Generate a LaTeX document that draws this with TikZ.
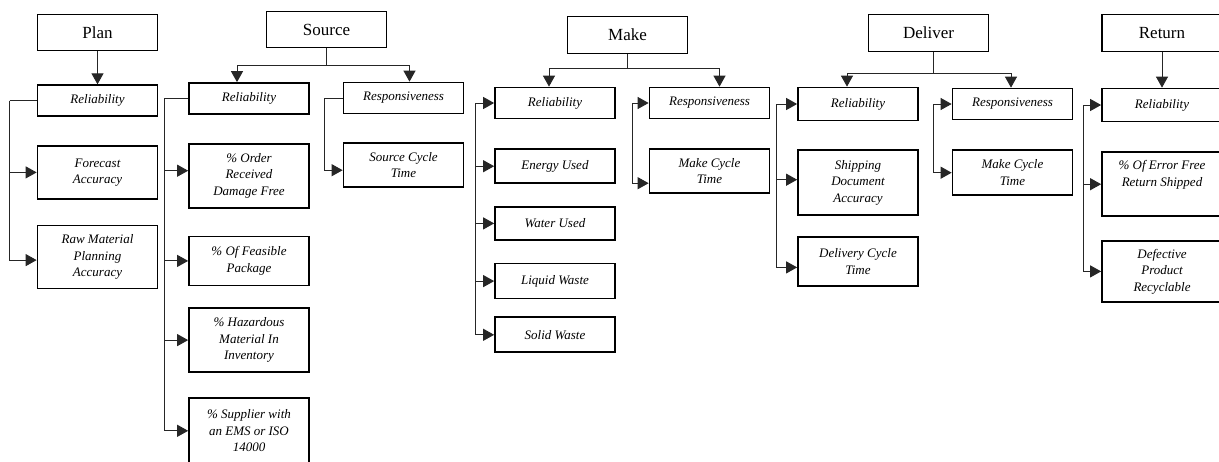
\documentclass[tikz,border=0pt]{standalone}
\usepackage{fontspec}
\setmainfont{Liberation Serif}
\usepackage{tikz}
\usetikzlibrary{arrows.meta, positioning}

\begin{document}
\begin{tikzpicture}[
    x=1pt, y=-1pt,
    node distance=28pt,
    head/.style={draw, line width=1.7pt, minimum width=120pt, minimum height=36pt,
                 font=\fontsize{17}{20}\selectfont},
    kpi/.style={draw, line width=1.7pt, minimum width=120pt, minimum height=31pt,
                align=center, font=\fontsize{13}{16.5}\selectfont\itshape},
    conn/.style={line width=1pt, draw=black!85},
    arr/.style={conn, -{Triangle[length=11pt, width=12pt]}},
]
\useasboundingbox (0,0) rectangle (1219,461);

% Plan
\node[head] (plan) at (97.5,32.5) {Plan};
\node[kpi, below=33pt of plan] (prel) {Reliability};
\node[kpi, below=28pt of prel, minimum height=53pt] (pfor) {Forecast\\Accuracy};
\node[kpi, below=25pt of pfor, minimum height=63pt] (praw) {Raw Material\\Planning\\Accuracy};
\coordinate[left=27pt of prel] (pbus);

\draw[arr] (plan) -- (prel);
\draw[conn] (prel) -- (pbus);
\draw[arr] (pbus) |- (pfor);
\draw[arr] (pbus) |- ([yshift=-3pt]praw.west);

% Source
\node[head] (src) at (326.5,29.5) {Source};
\node[kpi] (srel) at (249,98.5) {Reliability};
\node[kpi] (sresp) at (403.5,98) {Responsiveness};
\node[kpi, below=28pt of srel, minimum height=64pt] (sord) {\% Order\\Received\\Damage Free};
\node[kpi, below=27pt of sord, minimum height=49pt] (sfea) {\% Of Feasible\\Package};
\node[kpi, below=21pt of sfea, minimum height=64pt] (shaz) {\% Hazardous\\Material In\\Inventory};
\node[kpi, below=24pt of shaz, minimum height=66pt] (ssup) {\% Supplier with\\an EMS or ISO\\14000};
\node[kpi, below=28pt of sresp, minimum height=44pt] (scyc) {Source Cycle\\Time};
\coordinate[below=17pt of src] (sj);
\coordinate[left=24pt of srel] (sbus);
\coordinate[left=18pt of sresp] (sbus2);

\draw[conn] (src) -- (sj);
\draw[arr] (sj) -| ([xshift=-12pt]srel.north);
\draw[arr] (sj) -| ([xshift=6pt]sresp.north);
\draw[conn] (srel) -- (sbus);
\draw[arr] (sbus) |- ([yshift=5pt]sord.west);
\draw[arr] (sbus) |- (sfea);
\draw[arr] (sbus) |- (shaz);
\draw[arr] (sbus) |- (ssup);
\draw[conn] (sresp) -- (sbus2);
\draw[arr] (sbus2) |- ([yshift=-5pt]scyc.west);

% Make
\node[head, minimum height=37pt] (make) at (627.5,35) {Make};
\node[kpi] (mrel) at (555,103) {Reliability};
\node[kpi] (mresp) at (709.5,103) {Responsiveness};
\node[kpi, below=29pt of mrel, minimum height=34pt] (meng) {Energy Used};
\node[kpi, below=22pt of meng, minimum height=33pt] (mwat) {Water Used};
\node[kpi, below=22pt of mwat, minimum height=35pt] (mliq) {Liquid Waste};
\node[kpi, below=17pt of mliq, minimum height=35pt] (msol) {Solid Waste};
\node[kpi, below=29pt of mresp, minimum height=44pt] (mcyc) {Make Cycle\\Time};
\coordinate[below=14pt of make] (mj);
\coordinate[left=19pt of mrel] (mbus);
\coordinate[left=16pt of mresp] (mbus2);

\draw[conn] (make) -- (mj);
\draw[arr] (mj) -| ([xshift=-6pt]mrel.north);
\draw[arr] (mj) -| ([xshift=10pt]mresp.north);
\draw[arr] (mbus) -- (mrel);
\draw[arr] (mbus) |- (meng);
\draw[arr] (mbus) |- (mwat);
\draw[arr] (mbus) |- (mliq);
\draw[arr] (mbus) |- (msol);
\draw[arr] (mbus2) -- (mresp);
\draw[arr] (mbus2) |- ([yshift=-12pt]mcyc.west);

% Deliver
\node[head, minimum height=37pt] (dlv) at (928.5,33) {Deliver};
\node[kpi, minimum height=33pt] (drel) at (858,104) {Reliability};
\node[kpi] (dresp) at (1012.5,104) {Responsiveness};
\node[kpi, below=28pt of drel, minimum height=65pt] (dship) {Shipping\\Document\\Accuracy};
\node[kpi, below=20pt of dship, minimum height=49pt] (dcyc) {Delivery Cycle\\Time};
\node[kpi, below=29pt of dresp, minimum height=45pt] (dmcyc) {Make Cycle\\Time};
\coordinate[below=21pt of dlv, xshift=5pt] (dj);
\coordinate[left=21pt of drel] (dbus);
\coordinate[left=18pt of dresp] (dbus2);

\draw[conn] (dj) -- (dj |- dlv.south);
\draw[arr] (dj) -| ([xshift=-11pt]drel.north);
\draw[arr] (dj) -| ([xshift=-1.5pt]dresp.north);
\draw[arr] (dbus) -- (drel);
\draw[arr] (dbus) |- ([yshift=3pt]dship.west);
\draw[arr] (dbus) |- ([yshift=-6pt]dcyc.west);
\draw[arr] (dbus2) -- (dresp);
\draw[arr] (dbus2) |- (dmcyc);

% Return
\node[head, minimum height=37pt] (ret) at (1162,33) {Return};
\node[kpi, minimum height=33pt] (rrel) at (1162,105) {Reliability};
\node[kpi, below=29pt of rrel, minimum height=64pt] (rerr) {\% Of Error Free\\Return Shipped\\\strut};
\node[kpi, below=23pt of rerr, minimum height=61pt] (rdef) {Defective\\Product\\Recyclable};
\coordinate[left=18pt of rrel] (rbus);

\draw[arr] (ret) -- (rrel);
\draw[arr] (rbus) -- (rrel);
\draw[arr] (rbus) |- (rerr);
\draw[arr] (rbus) |- (rdef);
\end{tikzpicture}
\end{document}
